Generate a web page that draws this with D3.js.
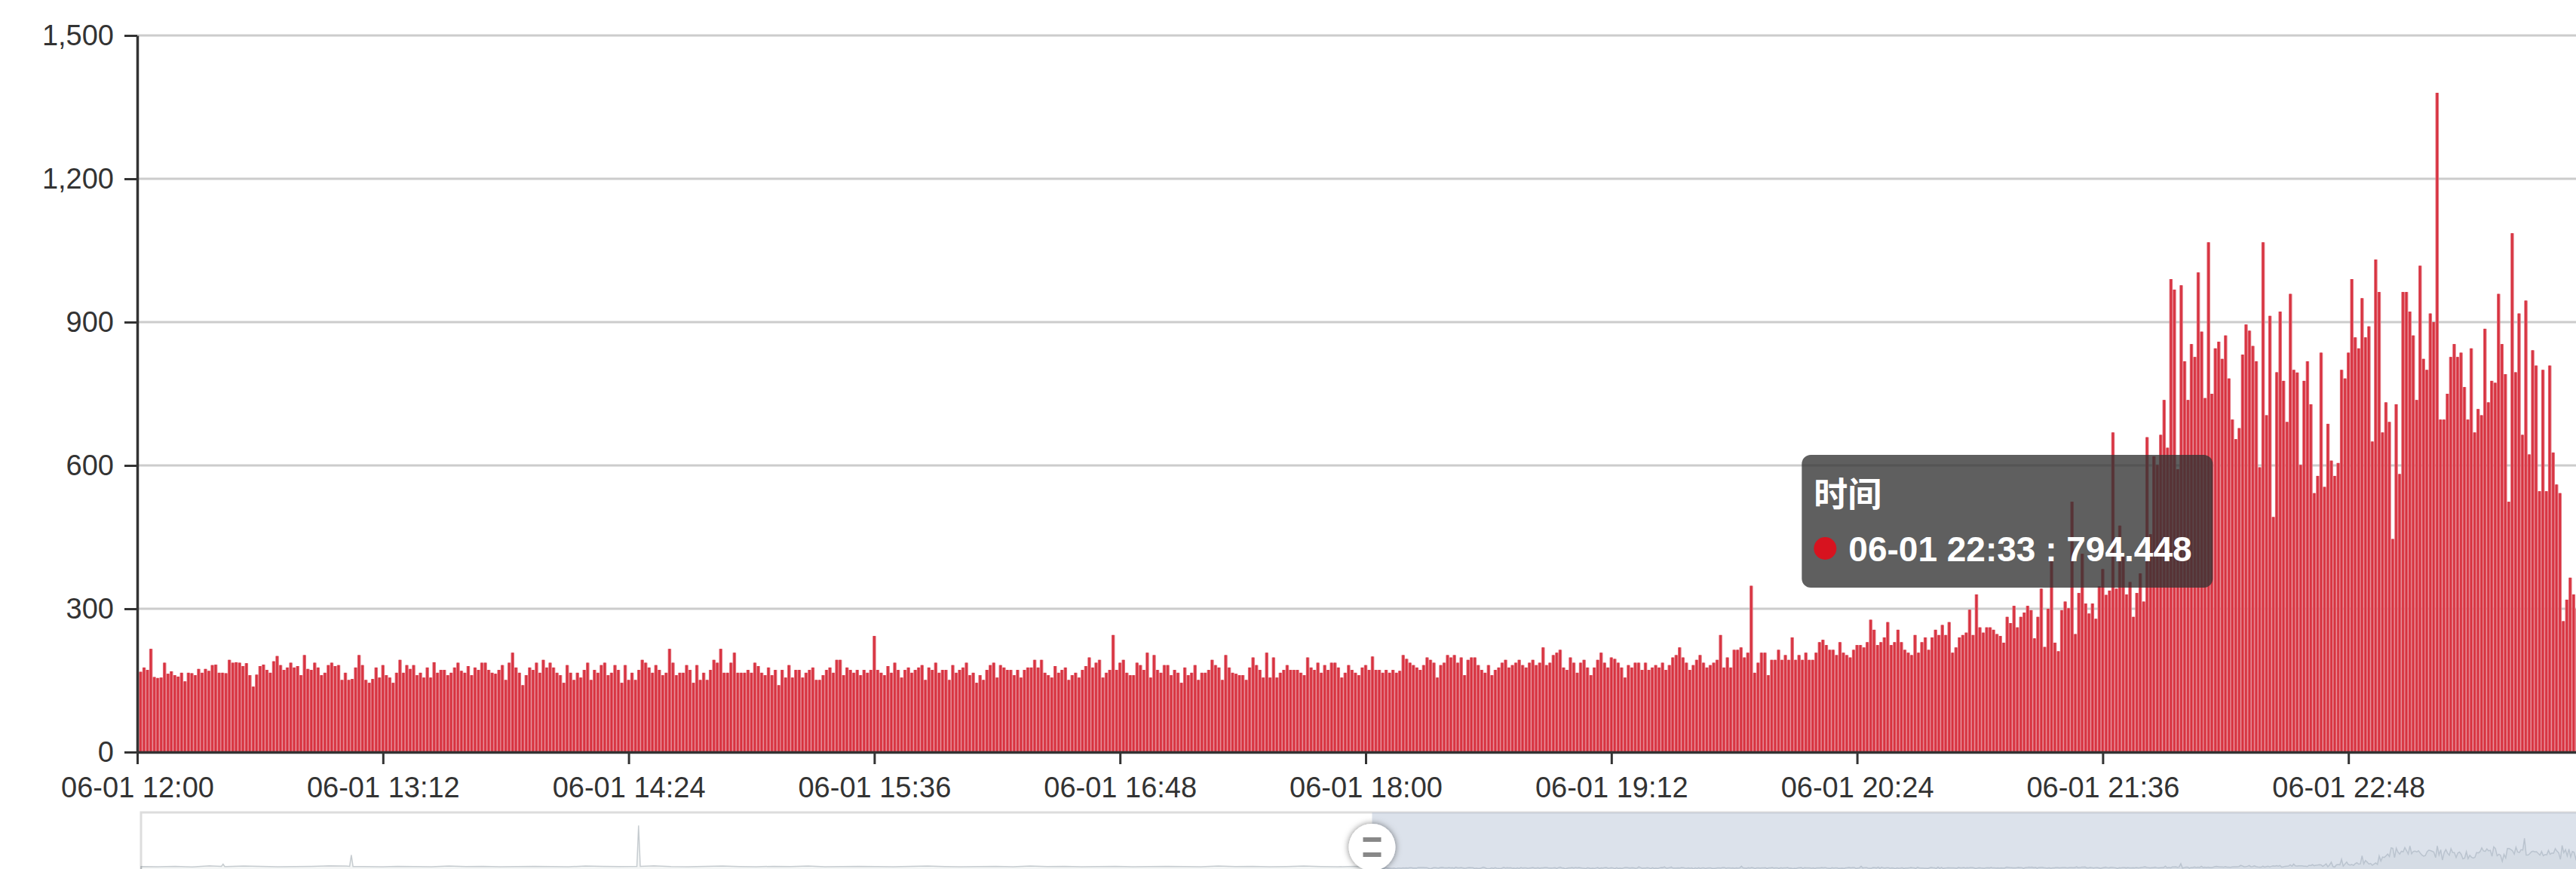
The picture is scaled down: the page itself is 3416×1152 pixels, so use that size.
<!DOCTYPE html>
<html>
<head>
<meta charset="utf-8">
<script src="https://cdn.jsdelivr.net/npm/d3@7"></script>
<style>
  html, body { margin: 0; padding: 0; background: #fff; overflow: hidden; }
  svg { display: block; font-family: 'Liberation Sans', Arial, Helvetica, 'Noto Sans CJK SC', sans-serif; }
</style>
</head>
<body>
<svg id="chart"></svg>
<script>
// one value per minute, 06-01 12:00 -> 23:59
const pmValues = [
  166, 168, 177, 172, 216, 157, 155, 156, 187, 164,
  169, 161, 158, 166, 148, 166, 165, 161, 174, 166,
  174, 170, 182, 183, 166, 166, 165, 193, 187, 188,
  187, 180, 186, 161, 137, 162, 180, 183, 172, 166,
  190, 201, 182, 172, 177, 187, 177, 180, 161, 203,
  174, 172, 187, 177, 161, 166, 182, 187, 180, 182,
  151, 166, 151, 153, 177, 203, 182, 151, 145, 153,
  177, 156, 182, 161, 156, 145, 166, 193, 166, 182,
  174, 182, 161, 166, 156, 177, 156, 188, 166, 172,
  172, 161, 166, 177, 187, 170, 166, 180, 161, 177,
  172, 187, 187, 172, 166, 164, 172, 182, 151, 187,
  208, 177, 166, 140, 161, 177, 172, 187, 166, 193,
  177, 187, 177, 166, 161, 145, 182, 166, 151, 166,
  156, 172, 187, 151, 172, 166, 182, 187, 161, 166,
  182, 172, 145, 182, 151, 166, 151, 172, 193, 187,
  177, 166, 182, 172, 161, 166, 216, 187, 161, 166,
  166, 182, 172, 145, 182, 151, 166, 151, 172, 193,
  187, 216, 166, 166, 187, 208, 166, 166, 166, 172,
  166,
  187, 180, 166, 161, 177, 161, 172, 140, 172, 156,
  182, 156, 172, 172, 156, 166, 172, 177, 151, 151,
  161, 172, 177, 166, 193, 193, 161, 177, 172, 166,
  172, 161, 172, 166, 172, 243, 172, 166, 161, 180,
  166, 187, 172, 156, 172, 177, 166, 172, 177, 182,
  151, 177, 172, 187, 166, 172, 172, 151, 182, 166,
  172, 177, 187, 161, 166, 145, 161, 151, 172, 182,
  187, 156, 182, 177, 172, 172, 161, 172, 156, 172,
  177, 177, 193, 177, 193, 166, 161, 156, 180, 166,
  172, 177, 151, 161, 166, 156, 172, 180, 198, 177,
  187, 193, 156, 166, 172, 245, 172, 187, 193, 166,
  161, 161, 187, 182, 172, 208, 156, 203, 172, 166,
  182, 182, 161, 172, 166, 145, 177, 161, 166, 182,
  151, 166, 166, 172, 193, 182, 177, 151, 203, 177,
  166, 164, 161, 161, 151, 177, 198, 182, 172, 156,
  208, 156, 198, 156, 166, 172, 182, 172, 172, 172,
  166, 161, 198, 177, 172, 187, 166, 182, 172, 187,
  187, 177, 156, 166, 182, 172, 166, 161, 177, 182, 172,
  200, 172, 172, 166, 172, 166, 172, 166, 170, 203,
  195, 187, 182, 177, 172, 182, 198, 193, 187, 156,
  182, 187, 203, 198, 203, 187, 198, 161, 193, 198,
  198, 182, 172, 166, 182, 161, 172, 177, 187, 193,
  177, 182, 187, 193, 182, 177, 187, 193, 182, 187,
  219, 182, 187, 203, 208, 214, 177, 172, 198, 187,
  166, 187, 193, 177, 161, 177, 193, 208, 187, 177,
  198, 195, 187, 177, 156, 182, 177, 187, 187, 172,
  187, 172, 177, 182, 177, 187, 172, 182, 198, 203,
  219, 198, 187, 172, 182, 193, 203, 187, 177, 182,
  187, 193, 245, 177, 198, 177, 214, 214, 219, 198,
  208, 348, 166, 187, 208, 208, 161, 193, 193, 214,
  193, 203, 193, 240, 193, 203, 193, 208, 193, 193,
  208, 230, 235, 224, 214, 214, 203, 230, 208, 203,
  198, 214, 224, 224, 219, 230, 277, 256, 224, 230,
  240, 272, 224, 230, 256, 230, 214, 208, 203, 245,
  208, 230, 240, 214, 240, 256, 245, 266, 245, 272,
  208, 219, 240, 245, 250, 298, 245, 330, 261, 250, 261,
  261, 256, 247, 243, 229, 283, 270, 306, 261, 283,
  292, 306, 297, 238, 283, 342, 220, 300, 406, 229,
  211, 297, 315, 301, 524, 247, 333, 415, 311, 290,
  311, 279, 347, 383, 329, 338, 669, 342, 474, 410,
  330, 356, 283, 333, 374, 315, 659, 456, 619, 601,
  664, 737, 637, 990, 968, 592, 977, 818, 737, 854,
  827, 1004, 880, 741, 1067, 750, 845, 859, 823, 872,
  782, 696, 655, 678, 832, 895, 882, 850, 818, 596,
  1067, 705, 913, 492, 795, 922, 777, 691, 959, 800,
  794.448, 601, 777, 818, 728, 542, 578, 836, 555, 687,
  610, 578, 605, 800, 782, 836, 990, 868, 845, 950,
  868, 891, 650, 1031, 963, 669, 732, 691, 446, 728,
  582, 963, 963, 922, 872, 737, 1018, 823, 800, 918,
  900, 1380, 696, 696, 750, 827, 854, 827, 836, 764,
  696, 845, 669, 718, 705, 886, 732, 777, 773, 959,
  854, 791, 524, 1086, 795, 918, 664, 945, 623, 841,
  809, 546, 800, 546, 809, 627, 560, 542, 274, 319,
  365, 330, 300, 280, 340, 310, 290
]

// morning part, only seen in the zoom slider shadow
const amTimes = [
  '00:00', '00:10', '00:20', '00:30', '00:40', '00:47', '00:48', '00:49', '00:50',
  '01:00', '01:10', '01:20', '01:30', '01:40', '01:50', '02:00', '02:02', '02:03', '02:04',
  '02:10', '02:20', '02:30', '02:40', '02:50', '03:00', '03:10', '03:20', '03:30', '03:40',
  '03:50', '04:00', '04:10', '04:20', '04:30', '04:40', '04:50', '04:51', '04:52', '05:00',
  '05:10', '05:20', '05:30', '05:40', '05:50', '06:00', '06:10', '06:20', '06:30', '06:40',
  '06:50', '07:00', '07:10', '07:20', '07:30', '07:40', '07:50', '08:00', '08:10', '08:20',
  '08:30', '08:40', '08:50', '09:00', '09:10', '09:20', '09:30', '09:40', '09:50', '10:00',
  '10:10', '10:20', '10:30', '10:40', '10:50', '11:00', '11:10', '11:20', '11:30', '11:40',
  '11:50'
]
const amValues = [
  230, 220, 240, 210, 260, 240, 330, 230, 230,
  250, 240, 220, 230, 240, 260, 250, 240, 700, 230,
  230, 220, 240, 230, 220, 250, 230, 240, 220, 230,
  240, 230, 220, 250, 240, 230, 240, 1900, 240, 260,
  230, 220, 240, 250, 230, 220, 240, 230, 250, 220,
  230, 240, 230, 220, 240, 250, 230, 220, 230, 240,
  220, 250, 230, 240, 220, 230, 240, 220, 230, 240,
  230, 220, 250, 230, 240, 220, 230, 250, 230, 220,
  240
]

const yTicks = [0, 300, 600, 900, 1200, 1500]
const xTickLabels = ['06-01 12:00', '06-01 13:12', '06-01 14:24', '06-01 15:36', '06-01 16:48',
  '06-01 18:00', '06-01 19:12', '06-01 20:24', '06-01 21:36', '06-01 22:48']

const tipTitle = '时间'
const tipTime = '06-01 22:33'
const tipValue = 794.448

const W = 3416
const H = 1152

const parseTime = d3.timeParse('%Y-%m-%d %H:%M')
const fmtTime = d3.timeFormat('%m-%d %H:%M')
const dayStart = parseTime('2018-06-01 00:00')
const pmStart = parseTime('2018-06-01 12:00')
const dayEnd = parseTime('2018-06-02 00:00')
const toDate = s => parseTime('2018-' + s)

const pmData = pmValues.map((v, i) => ({ t: d3.timeMinute.offset(pmStart, i), v }))
const amData = amValues.map((v, i) => ({ t: toDate('06-01 ' + amTimes[i]), v }))

const svg = d3.select('#chart').attr('width', W).attr('height', H)

const x = d3.scaleTime().domain([pmStart, dayEnd]).range([182, 3440])
const y = d3.scaleLinear().domain([0, 1500]).range([997, 47])

// grid lines
svg.append('g')
  .selectAll('line')
  .data(yTicks.slice(1))
  .join('line')
  .attr('x1', x.range()[0])
  .attr('x2', W)
  .attr('y1', d => y(d))
  .attr('y2', d => y(d))
  .attr('stroke', '#cccccc')
  .attr('stroke-width', 3)

svg.append('clipPath')
  .attr('id', 'plotClip')
  .append('rect')
  .attr('x', x.range()[0])
  .attr('y', 0)
  .attr('width', W - x.range()[0])
  .attr('height', y(0))

// bars: light full slot, darker core
const slot = x(d3.timeMinute.offset(pmStart, 1)) - x(pmStart)
const bars = svg.append('g')
  .attr('clip-path', 'url(#plotClip)')
  .selectAll('g')
  .data(pmData)
  .join('g')

bars.append('rect')
  .attr('x', d => x(d.t) - slot / 2)
  .attr('width', slot)
  .attr('y', d => y(d.v))
  .attr('height', d => y(0) - y(d.v))
  .attr('fill', '#e2707c')

bars.append('rect')
  .attr('x', d => x(d.t) - slot * 0.3)
  .attr('width', slot * 0.56)
  .attr('y', d => y(d.v))
  .attr('height', d => y(0) - y(d.v))
  .attr('fill', '#d8323f')

// axes
const yAxis = svg.append('g')
  .attr('transform', `translate(${x.range()[0]},0)`)
  .call(d3.axisLeft(y).tickValues(yTicks).tickFormat(d3.format(',')).tickSize(17).tickSizeOuter(0).tickPadding(14))

const xAxis = svg.append('g')
  .attr('transform', `translate(0,${y(0)})`)
  .call(d3.axisBottom(x).tickValues(xTickLabels.map(toDate)).tickFormat(fmtTime).tickSize(16).tickSizeOuter(0).tickPadding(17))

;[yAxis, xAxis].forEach(ax => {
  ax.select('.domain').attr('stroke', '#333').attr('stroke-width', 3.5)
  ax.selectAll('.tick line').attr('stroke', '#333').attr('stroke-width', 3)
  ax.selectAll('.tick text')
    .attr('fill', '#333')
    .style('font-size', '38px')
    .style('font-family', "'Liberation Sans', Arial, Helvetica, sans-serif")
})

// zoom slider along the bottom
const sx = d3.scaleTime().domain([dayStart, dayEnd]).range([187, 3452])
const sTop = 1077
const sH = 92
const allData = amData.concat(pmData)
const ext = d3.extent(allData, d => d.v)
const pad = (ext[1] - ext[0]) * 0.3
const sy = d3.scaleLinear().domain([ext[0] - pad, ext[1] + pad]).range([sTop + sH, sTop])

const slider = svg.append('g')
slider.append('rect')
  .attr('x', sx.range()[0])
  .attr('y', sTop)
  .attr('width', sx.range()[1] - sx.range()[0])
  .attr('height', sH)
  .attr('fill', 'none')
  .attr('stroke', '#dddddd')
  .attr('stroke-width', 3)

slider.append('path')
  .datum(allData)
  .attr('d', d3.area().x(d => sx(d.t)).y0(sTop + sH).y1(d => sy(d.v)))
  .attr('fill', 'rgba(47,69,84,0.05)')
  .attr('stroke', 'rgba(47,69,84,0.25)')
  .attr('stroke-width', 1.5)

slider.append('rect')
  .attr('x', sx(pmStart))
  .attr('y', sTop)
  .attr('width', sx(dayEnd) - sx(pmStart))
  .attr('height', sH)
  .attr('fill', 'rgba(167,183,204,0.4)')

const defs = svg.append('defs')
const shadow = defs.append('filter').attr('id', 'hs').attr('x', '-50%').attr('y', '-50%').attr('width', '200%').attr('height', '200%')
shadow.append('feDropShadow').attr('dx', 0).attr('dy', 0).attr('stdDeviation', 4).attr('flood-color', 'rgba(0,0,0,0.5)')

const handle = slider.append('g')
  .attr('transform', `translate(${sx(pmStart)},${sTop + sH / 2})`)
handle.append('circle')
  .attr('r', 31)
  .attr('fill', '#fff')
  .attr('filter', 'url(#hs)')
handle.selectAll('rect')
  .data([-10, 10])
  .join('rect')
  .attr('x', -12)
  .attr('y', d => d - 3)
  .attr('width', 24)
  .attr('height', 6)
  .attr('fill', '#888')

// tooltip for the hovered bar
const tipW = 545
const tipH = 176
const tipX = x(toDate(tipTime)) - 112 - tipW
const tipY = 603
const tip = svg.append('g').attr('transform', `translate(${tipX},${tipY})`)
tip.append('rect')
  .attr('width', tipW)
  .attr('height', tipH)
  .attr('rx', 12)
  .attr('fill', 'rgba(50,50,50,0.78)')
tip.append('text')
  .attr('x', 16)
  .attr('y', 69)
  .attr('fill', '#fff')
  .style('font-size', '45px')
  .style('font-weight', 'bold')
  .style('font-family', "'Noto Sans CJK SC', sans-serif")
  .text(tipTitle)
tip.append('circle')
  .attr('cx', 31)
  .attr('cy', 124)
  .attr('r', 15)
  .attr('fill', '#d7131f')
tip.append('text')
  .attr('x', 62)
  .attr('y', 141)
  .attr('fill', '#fff')
  .style('font-size', '46px')
  .style('font-weight', 'bold')
  .text(tipTime + ' : ' + tipValue)
</script>
</body>
</html>
